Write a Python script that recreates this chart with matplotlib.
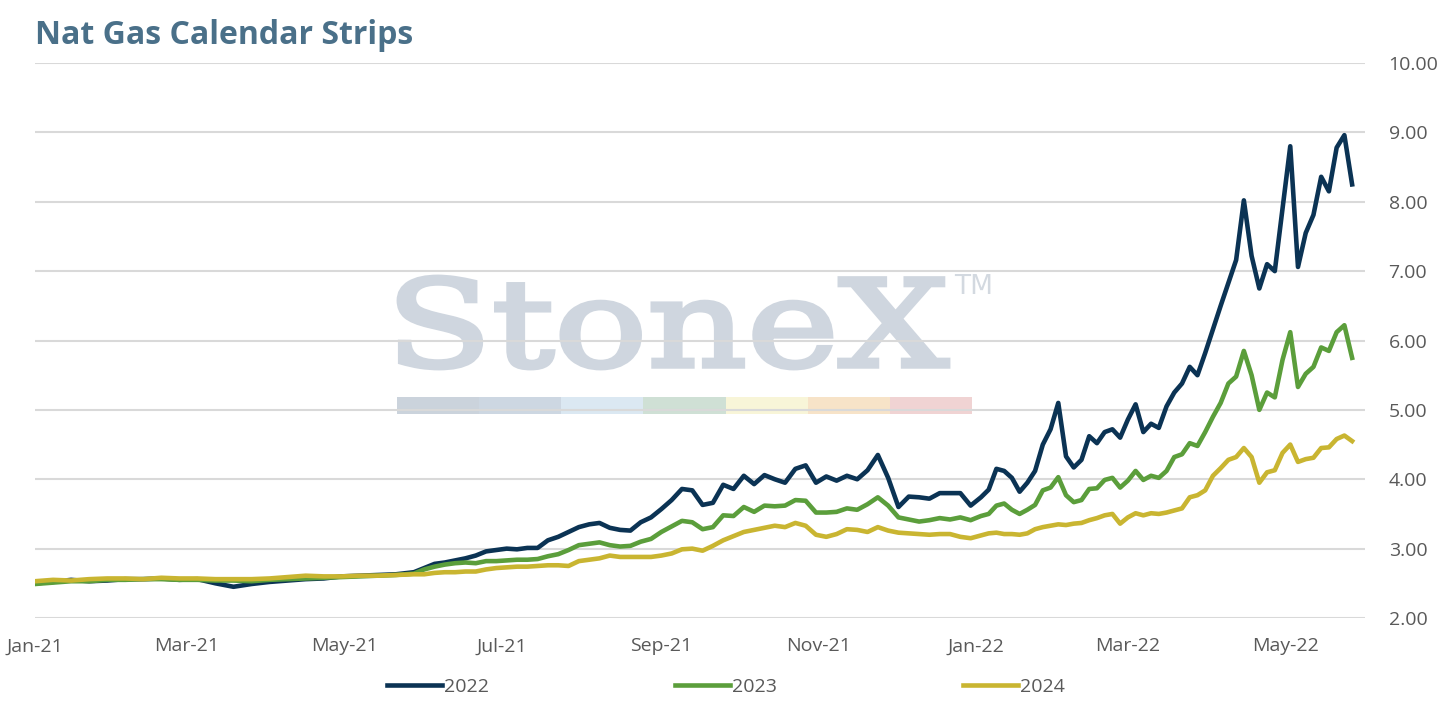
import numpy as np
import pandas as pd
import matplotlib
matplotlib.use("Agg")
import matplotlib.pyplot as plt
import matplotlib.dates as mdates
from matplotlib.textpath import TextPath
from matplotlib.patches import PathPatch, Rectangle
from matplotlib.font_manager import FontProperties
from matplotlib.transforms import Affine2D, IdentityTransform

# sampling dates: weekly early 2021, every 4 days Jun-Dec 2021, every 3 days in 2022
dates = (pd.date_range("2021-01-01", "2021-05-28", freq="7D")
         .append(pd.date_range("2021-06-01", "2021-12-30", freq="4D"))
         .append(pd.date_range("2022-01-03", "2022-05-27", freq="3D")))

strip_2022 = [
    2.50, 2.52, 2.55, 2.53, 2.54, 2.56, 2.56, 2.57, 2.55, 2.56, 2.50, 2.45, 2.49, 2.52, 2.54, 2.56,
    2.57, 2.60, 2.61, 2.62, 2.63, 2.66,
    2.72, 2.78, 2.80, 2.83, 2.86, 2.90, 2.96, 2.98, 3.00, 2.99, 3.01, 3.01, 3.12, 3.17, 3.24, 3.31,
    3.35, 3.37, 3.30, 3.27, 3.26, 3.38, 3.45, 3.57, 3.70, 3.86, 3.84, 3.63, 3.66, 3.92, 3.86, 4.05,
    3.93, 4.06, 4.00, 3.95, 4.15, 4.20, 3.95, 4.04, 3.98, 4.05, 4.00, 4.13, 4.35, 4.02, 3.60, 3.75,
    3.74, 3.72, 3.80, 3.80, 3.80, 3.62,
    3.74, 3.85, 4.15, 4.12, 4.02, 3.82, 3.95, 4.12, 4.50, 4.72, 5.10, 4.33, 4.17, 4.28, 4.62, 4.52,
    4.68, 4.72, 4.60, 4.86, 5.08, 4.68, 4.80, 4.74, 5.05, 5.25, 5.38, 5.62, 5.50, 5.82, 6.16, 6.50,
    6.83, 7.16, 8.02, 7.22, 6.75, 7.10, 7.00, 7.90, 8.80, 7.06, 7.55, 7.81, 8.36, 8.15, 8.78, 8.96,
    8.25,
]
strip_2023 = [
    2.49, 2.51, 2.53, 2.53, 2.55, 2.55, 2.56, 2.56, 2.55, 2.55, 2.54, 2.54, 2.53, 2.55, 2.56, 2.57,
    2.58, 2.59, 2.60, 2.61, 2.62, 2.64,
    2.70, 2.74, 2.77, 2.79, 2.80, 2.79, 2.82, 2.82, 2.83, 2.84, 2.84, 2.85, 2.89, 2.92, 2.98, 3.05,
    3.07, 3.09, 3.05, 3.03, 3.04, 3.10, 3.14, 3.24, 3.32, 3.40, 3.38, 3.28, 3.31, 3.48, 3.47, 3.60,
    3.53, 3.62, 3.61, 3.62, 3.70, 3.69, 3.52, 3.52, 3.53, 3.58, 3.56, 3.64, 3.74, 3.62, 3.45, 3.42,
    3.39, 3.41, 3.44, 3.42, 3.45, 3.41,
    3.47, 3.50, 3.62, 3.65, 3.56, 3.50, 3.56, 3.63, 3.84, 3.88, 4.03, 3.77, 3.67, 3.70, 3.86, 3.87,
    3.99, 4.02, 3.88, 3.98, 4.12, 3.99, 4.05, 4.02, 4.12, 4.32, 4.36, 4.52, 4.48, 4.68, 4.90, 5.10,
    5.38, 5.48, 5.85, 5.50, 5.00, 5.25, 5.18, 5.72, 6.12, 5.33, 5.52, 5.62, 5.90, 5.85, 6.12, 6.22,
    5.75,
]
strip_2024 = [
    2.53, 2.55, 2.54, 2.56, 2.57, 2.57, 2.56, 2.58, 2.57, 2.57, 2.56, 2.56, 2.56, 2.57, 2.59, 2.61,
    2.60, 2.60, 2.61, 2.61, 2.62, 2.63,
    2.63, 2.65, 2.66, 2.66, 2.67, 2.67, 2.70, 2.72, 2.73, 2.74, 2.74, 2.75, 2.76, 2.76, 2.75, 2.82,
    2.84, 2.86, 2.90, 2.88, 2.88, 2.88, 2.88, 2.90, 2.93, 2.99, 3.00, 2.97, 3.04, 3.12, 3.18, 3.24,
    3.27, 3.30, 3.33, 3.31, 3.37, 3.33, 3.20, 3.17, 3.21, 3.28, 3.27, 3.24, 3.31, 3.26, 3.23, 3.22,
    3.21, 3.20, 3.21, 3.21, 3.17, 3.15,
    3.19, 3.22, 3.23, 3.21, 3.21, 3.20, 3.22, 3.28, 3.31, 3.33, 3.35, 3.34, 3.36, 3.37, 3.41, 3.44,
    3.48, 3.50, 3.36, 3.45, 3.51, 3.48, 3.51, 3.50, 3.52, 3.55, 3.58, 3.74, 3.77, 3.84, 4.05, 4.16,
    4.28, 4.32, 4.45, 4.32, 3.95, 4.10, 4.13, 4.38, 4.50, 4.25, 4.29, 4.31, 4.45, 4.46, 4.58, 4.63,
    4.55,
]

series = [("2022", strip_2022, "#0b3354"),
          ("2023", strip_2023, "#5b9e3b"),
          ("2024", strip_2024, "#c9b531")]

y_ticks = [2, 3, 4, 5, 6, 7, 8, 9, 10]
x_ticks = pd.date_range("2021-01-01", "2022-05-01", freq="2MS")

label_color = "#595959"
W, H = 1443, 708
fig = plt.figure(figsize=(W / 100, H / 100), dpi=100)
ax = fig.add_axes([35 / W, 1 - 618 / H, 1330 / W, 555 / H])

# watermark (drawn in pixel coordinates, under the gridlines)
fp = FontProperties(family="DejaVu Serif")
tp = TextPath((0, 0), "StoneX", size=1, prop=fp)
ext = tp.get_extents()
sx = 549 / ext.width
sy = 91 / ext.height
tr = Affine2D().translate(-ext.x0, -ext.y0).scale(sx, sy).translate(399, H - 368)
wm = tp.transformed(tr)
ax.add_patch(PathPatch(wm, transform=IdentityTransform(), facecolor="#cfd6df",
                       edgecolor="#cfd6df", lw=3.5, zorder=0.1))
fig.text(954 / W, 1 - 294 / H, "TM", fontsize=19, color="#d3d9e0", family="DejaVu Sans")
bar_colors = ["#cbd3dc", "#cdd7e2", "#dbe8f2", "#cfe0d5", "#f8f5d8", "#f7e3c8", "#f0d3d3"]
seg = 575 / len(bar_colors)
for i, c in enumerate(bar_colors):
    ax.add_patch(Rectangle((397 + i * seg, H - 414), seg, 17, transform=IdentityTransform(),
                           facecolor=c, edgecolor="none", zorder=0.1))

for name, vals, col in series:
    ax.plot(dates, vals, color=col, lw=3.3, label=name, zorder=3, solid_joinstyle="round")

ax.set_ylim(2, 10)
ax.set_xlim(pd.Timestamp("2021-01-01"), pd.Timestamp("2022-06-01"))
ax.set_yticks(y_ticks)
ax.yaxis.set_major_formatter(matplotlib.ticker.FormatStrFormatter("%.2f"))
ax.yaxis.tick_right()
ax.set_xticks(x_ticks)
ax.xaxis.set_major_formatter(mdates.DateFormatter("%b-%y"))
ax.tick_params(axis="y", length=0, pad=17, labelsize=14, labelcolor=label_color)
ax.tick_params(axis="x", length=0, pad=14, labelsize=14, labelcolor=label_color)
for lab in ax.get_xticklabels() + ax.get_yticklabels():
    lab.set_family("Open Sans")

ax.set_axisbelow(True)
ax.grid(axis="y", color="#d9d9d9", lw=1.5)
ax.grid(axis="x", visible=False)
for s in ax.spines.values():
    s.set_visible(False)
ax.patch.set_alpha(0)

fig.text(35 / W, 1 - 36 / H, "Nat Gas Calendar Strips", fontsize=23, fontweight="bold",
         color="#4a7089", family="Open Sans", va="center", ha="left")

leg = fig.legend(loc="center", bbox_to_anchor=(726 / W, 1 - 687 / H), ncol=3, frameon=False,
                 handlelength=2.8, handletextpad=0.1, columnspacing=9.6,
                 prop={"family": "Open Sans", "size": 14})
for t in leg.get_texts():
    t.set_color(label_color)

fig.savefig("out.png", dpi=100)
